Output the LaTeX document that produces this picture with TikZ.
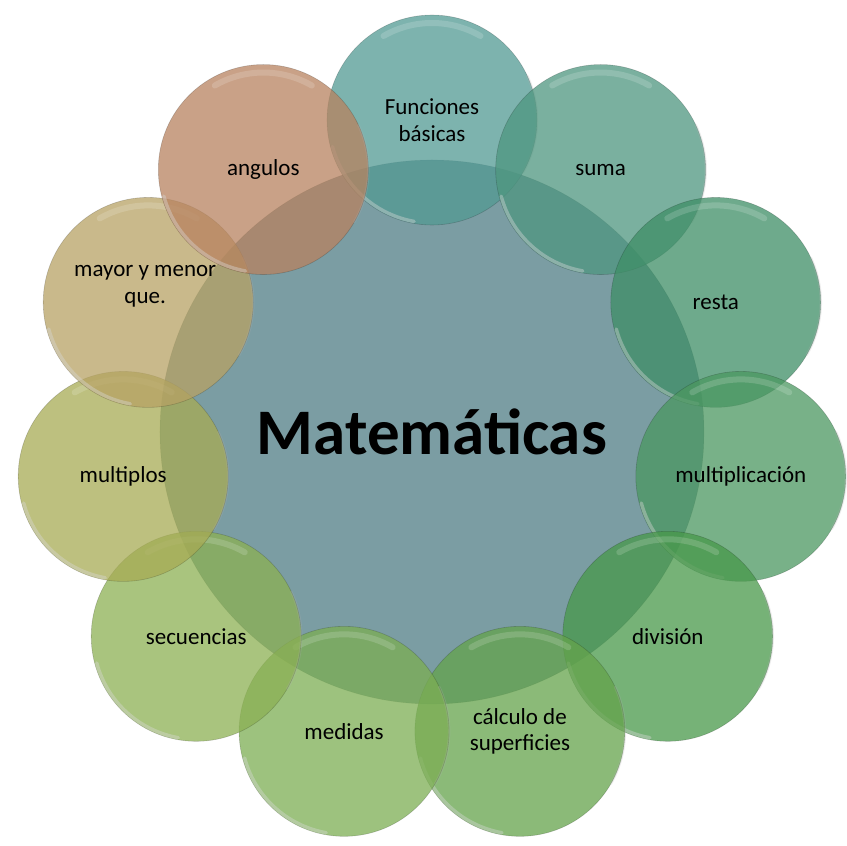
\documentclass[tikz,border=0pt]{standalone}
\usepackage{fontspec}
\setmainfont{Carlito}
\usetikzlibrary{calc}
\definecolor{cCenter}{HTML}{4F7C84}
\definecolor{c0}{HTML}{529A93}
\definecolor{c1}{HTML}{4E967F}
\definecolor{c2}{HTML}{3E8E66}
\definecolor{c3}{HTML}{4B9760}
\definecolor{c4}{HTML}{48984A}
\definecolor{c5}{HTML}{64A34B}
\definecolor{c6}{HTML}{7CAE53}
\definecolor{c7}{HTML}{8CB053}
\definecolor{c8}{HTML}{A7AB54}
\definecolor{c9}{HTML}{B7A264}
\definecolor{c10}{HTML}{B7825F}
\tikzset{
  petal/.style={circle, minimum size=210pt, inner sep=0pt, fill opacity=0.75, draw=black, draw opacity=0.18, line width=0.6pt},
  hub/.style={circle, minimum size=544pt, inner sep=0pt, fill=cCenter, fill opacity=0.75, draw=black, draw opacity=0.15, line width=0.6pt},
  lbl/.style={align=center, font=\fontsize{23}{26.5}\selectfont, text=black},
  title/.style={font=\fontsize{65}{70}\selectfont\bfseries, text=black},
  rimtop/.style={white, opacity=0.16, line width=6pt, line cap=round},
  rimlow/.style={gray!30, opacity=0.4, line width=3.5pt, line cap=round},
  rimright/.style={gray!60, opacity=0.22, line width=2.5pt, line cap=round}
}
\begin{document}
\begin{tikzpicture}[x=1pt,y=1pt]
\useasboundingbox (-432,-414) rectangle (415,432);
\node[hub] (hub) at (0,0) {};
\foreach \i in {0,...,10}{
  \pgfmathsetmacro{\ang}{90-\i*360/11}
  \node[petal, fill=c\i] (c\i) at (\ang:312) {};
  \draw[rimtop] ($(c\i.center)+(60:97)$) arc (60:120:97);
  \draw[rimlow] ($(c\i.center)+(195:103)$) arc (195:260:103);
  \draw[rimright] ($(c\i.center)+(-30:105)$) arc (-30:25:105);
}
\node[lbl] (l0) at (c0) {Funciones\\básicas};
\node[lbl] (l1) at (c1) {suma};
\node[lbl] (l2) at (c2) {resta};
\node[lbl] (l3) at (c3) {multiplicación};
\node[lbl] (l4) at (c4) {división};
\node[lbl] (l5) at (c5) {cálculo de\\superficies};
\node[lbl] (l6) at (c6) {medidas};
\node[lbl] (l7) at (c7) {secuencias};
\node[lbl] (l8) at (c8) {multiplos};
\node[lbl] (l9) at ($(c9)+(-3,16)$) {mayor y menor\\que.};
\node[lbl] (l10) at (c10) {angulos};
\node[title] (title) at (0,0) {Matemáticas};
\end{tikzpicture}
\end{document}
